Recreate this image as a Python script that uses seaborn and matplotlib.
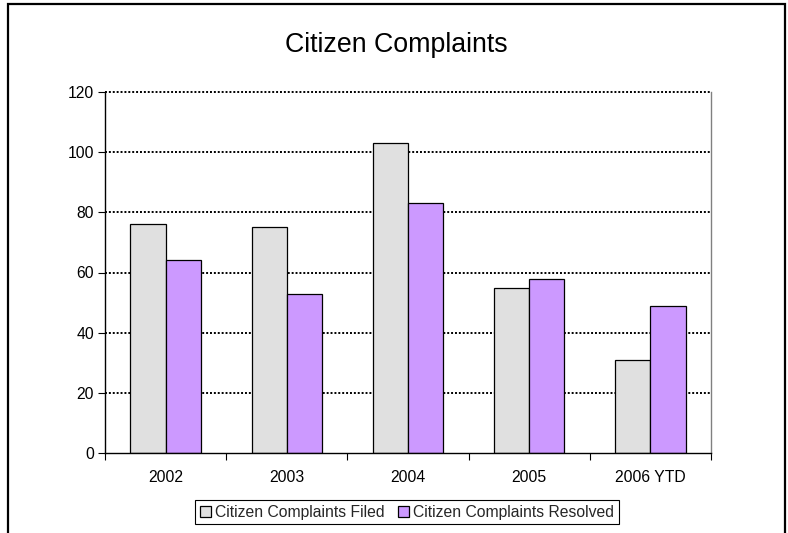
import matplotlib
matplotlib.use("Agg")
import matplotlib.pyplot as plt
import seaborn as sns
import pandas as pd
from matplotlib.patches import Rectangle
from matplotlib.ticker import FixedLocator

years = ["2002", "2003", "2004", "2005", "2006 YTD"]
filed = [76, 75, 103, 55, 31]
resolved = [64, 53, 83, 58, 49]
series_names = ["Citizen Complaints Filed", "Citizen Complaints Resolved"]
series_colors = ["#E0E0E0", "#CC99FF"]
y_ticks = [0, 20, 40, 60, 80, 100, 120]

sns.set_theme(style="white")
plt.rcParams['font.family'] = ['Liberation Sans', 'DejaVu Sans']

df = pd.DataFrame({
    "Year": years * 2,
    "Count": filed + resolved,
    "Series": [series_names[0]] * len(years) + [series_names[1]] * len(years),
})

fig = plt.figure(figsize=(7.88, 5.33), dpi=100)
ax = fig.add_axes([105 / 788, 1 - 453 / 533, (711 - 105) / 788, (453 - 92) / 533])

sns.barplot(data=df, x="Year", y="Count", hue="Series", order=years,
            hue_order=series_names, palette=series_colors, width=0.58,
            edgecolor="black", linewidth=0.9, saturation=1, ax=ax)

ax.set_xlim(-0.5, len(years) - 0.5)
ax.set_ylim(0, 120)
ax.set_yticks(y_ticks)
ax.set_xlabel("")
ax.set_ylabel("")

# dotted horizontal gridlines behind the bars
ax.set_axisbelow(True)
ax.yaxis.grid(True, linestyle=(0, (1, 1)), color="black", linewidth=1.4)
ax.xaxis.grid(False)
for gl in ax.get_ygridlines():
    gl.set_clip_on(False)
ax.get_ygridlines()[0].set_visible(False)

for side in ["left", "bottom"]:
    ax.spines[side].set_color("black")
    ax.spines[side].set_linewidth(1.0)
    ax.spines[side].set_zorder(3)
ax.spines["top"].set_visible(False)
ax.spines["right"].set_color("#808080")
ax.spines["right"].set_linewidth(1.0)

ax.tick_params(axis="y", left=True, direction="out", length=5, width=0.8,
               color="black", labelsize=11.3, pad=3, labelcolor="black")
# category labels centred, tick marks at category boundaries
ax.tick_params(axis="x", which="major", bottom=True, length=0, pad=12,
               labelsize=11.3, labelcolor="black")
ax.xaxis.set_minor_locator(FixedLocator([i - 0.5 for i in range(len(years) + 1)]))
ax.tick_params(axis="x", which="minor", bottom=True, direction="out",
               length=5, width=0.8, color="black")

ax.legend(loc="center", bbox_to_anchor=(407 / 788, 1 - 512 / 533),
          bbox_transform=fig.transFigure, ncol=2, frameon=True,
          fancybox=False, edgecolor="black", framealpha=1,
          handlelength=0.7, handleheight=0.7, handletextpad=0.3,
          columnspacing=0.8, borderpad=0.3, borderaxespad=0,
          fontsize=11.3, title=None)
ax.get_legend().get_frame().set_linewidth(0.8)

fig.text(396.5 / 788, 1 - 45 / 533, "Citizen Complaints", ha="center",
         va="center", fontsize=19.3, color="black")

# outer chart frame, open at the bottom edge
fig.add_artist(Rectangle((8 / 788, -0.05), (785 - 8) / 788, 1 - 4 / 533 + 0.05,
                         transform=fig.transFigure, fill=False,
                         edgecolor="black", linewidth=1.6))

fig.savefig("out.png", dpi=100)
